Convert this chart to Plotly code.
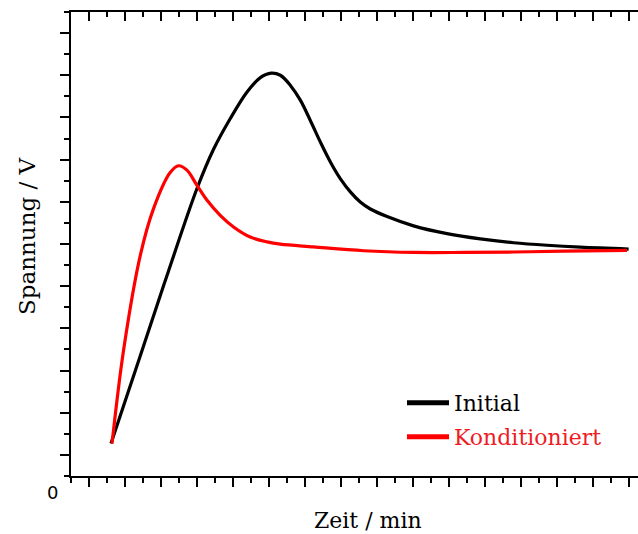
import plotly.graph_objects as go

# ---- data (axis units: x in minor-tick steps, y in minor-tick steps) ----
initial_x = [2.22, 3.85, 5.41, 7.00, 7.92, 8.85, 9.78, 10.52, 11.12, 11.63, 12.18, 12.74,
             13.29, 13.85, 14.41, 14.96, 15.52, 16.07, 16.63, 17.56, 19.03, 20.89,
             22.74, 24.59, 26.44, 28.29, 30.98]
initial_y = [1.54, 5.70, 9.70, 13.63, 15.49, 16.95, 18.21, 18.89, 19.10, 19.00, 18.53, 17.82,
             16.87, 15.84, 14.89, 14.10, 13.47, 12.99, 12.66, 12.30, 11.86, 11.49,
             11.24, 11.06, 10.94, 10.85, 10.76]

kond_x = [2.28, 2.92, 3.85, 4.59, 5.52, 5.98, 6.44, 7.00, 7.56, 8.29, 9.03,
          9.96, 10.89, 11.63, 13.48, 16.26, 19.03, 21.81, 24.59, 27.37, 30.89]
kond_y = [1.54, 5.96, 10.46, 12.69, 14.40, 14.71, 14.50, 13.78, 13.07, 12.36, 11.81,
          11.33, 11.10, 10.99, 10.86, 10.68, 10.60, 10.60, 10.62, 10.66, 10.70]

series_names = ["Initial", "Konditioniert"]
x_major = list(range(1, 32, 2))
x_minor = list(range(0, 33, 2))
y_major = list(range(1, 22, 2))
y_minor = list(range(0, 23, 2))

W, H = 638, 534
ML, MT, MB, MR = 71, 12, 58, 0
PW, PH = W - ML - MR, H - MT - MB


def px(xp):
    return (xp - ML) / PW


def py(yp):
    return (H - MB - yp) / PH


SERIF = "DejaVu Serif"
fig = go.Figure()
fig.add_trace(go.Scatter(x=initial_x, y=initial_y, mode="lines", showlegend=False,
                         line=dict(color="black", width=3.2, shape="spline", smoothing=1.0)))
fig.add_trace(go.Scatter(x=kond_x, y=kond_y, mode="lines", showlegend=False,
                         line=dict(color="#ff0000", width=3.2, shape="spline", smoothing=1.0)))
# legend entries
fig.add_trace(go.Scatter(x=[None], y=[None], mode="lines", name=series_names[0],
                         line=dict(color="black", width=5), legend="legend"))
fig.add_trace(go.Scatter(x=[None], y=[None], mode="lines", name=series_names[1],
                         line=dict(color="#ff0000", width=5), legend="legend2"))
# invisible trace for top axis
fig.add_trace(go.Scatter(x=[None], y=[None], xaxis="x2", showlegend=False, hoverinfo="skip"))

axis_common = dict(showline=True, linecolor="black", linewidth=2, showgrid=False,
                   zeroline=False, showticklabels=False, tickcolor="black")

fig.update_layout(
    width=W, height=H,
    margin=dict(l=ML, r=MR, t=MT, b=MB),
    plot_bgcolor="white", paper_bgcolor="white",
    xaxis=dict(range=[0, PW / 18.0], tickmode="array", tickvals=x_major, ticks="outside",
               ticklen=9, tickwidth=2,
               minor=dict(tickvals=x_minor, ticks="outside", ticklen=5, tickwidth=1.5,
                          tickcolor="black"),
               **axis_common),
    xaxis2=dict(range=[0, PW / 18.0], overlaying="x", side="top", tickmode="array",
                tickvals=x_major, ticks="inside", ticklen=9, tickwidth=2,
                minor=dict(tickvals=x_minor, ticks="inside", ticklen=5, tickwidth=1.5,
                           tickcolor="black"),
                **axis_common),
    yaxis=dict(range=[0, 22], tickmode="array", tickvals=y_major, ticks="outside",
               ticklen=9, tickwidth=2,
               minor=dict(tickvals=y_minor, ticks="outside", ticklen=5, tickwidth=1.5,
                          tickcolor="black"),
               **axis_common),
    legend=dict(x=px(402), y=py(403), xanchor="left", yanchor="middle", itemwidth=42,
                bgcolor="rgba(0,0,0,0)", font=dict(family=SERIF, size=22, color="black")),
    legend2=dict(x=px(402), y=py(437), xanchor="left", yanchor="middle", itemwidth=42,
                 bgcolor="rgba(0,0,0,0)", font=dict(family=SERIF, size=22, color="#ee1c25")),
    annotations=[
        dict(text="Zeit / min", x=px(368), y=py(520), xref="paper", yref="paper",
             xanchor="center", yanchor="middle",
             showarrow=False, font=dict(family=SERIF, size=22, color="black")),
        dict(text="Spannung / V", x=px(27), y=py(236), xref="paper", yref="paper",
             xanchor="center", yanchor="middle",
             textangle=-90, showarrow=False, font=dict(family=SERIF, size=23, color="black")),
        dict(text="0", x=px(52), y=py(493), xref="paper", yref="paper",
             xanchor="center", yanchor="middle",
             showarrow=False, font=dict(family="DejaVu Sans", size=18, color="black")),
    ],
)

fig.write_html("out.html", config={"displayModeBar": False},
               post_script="document.body.style.margin='0';")
